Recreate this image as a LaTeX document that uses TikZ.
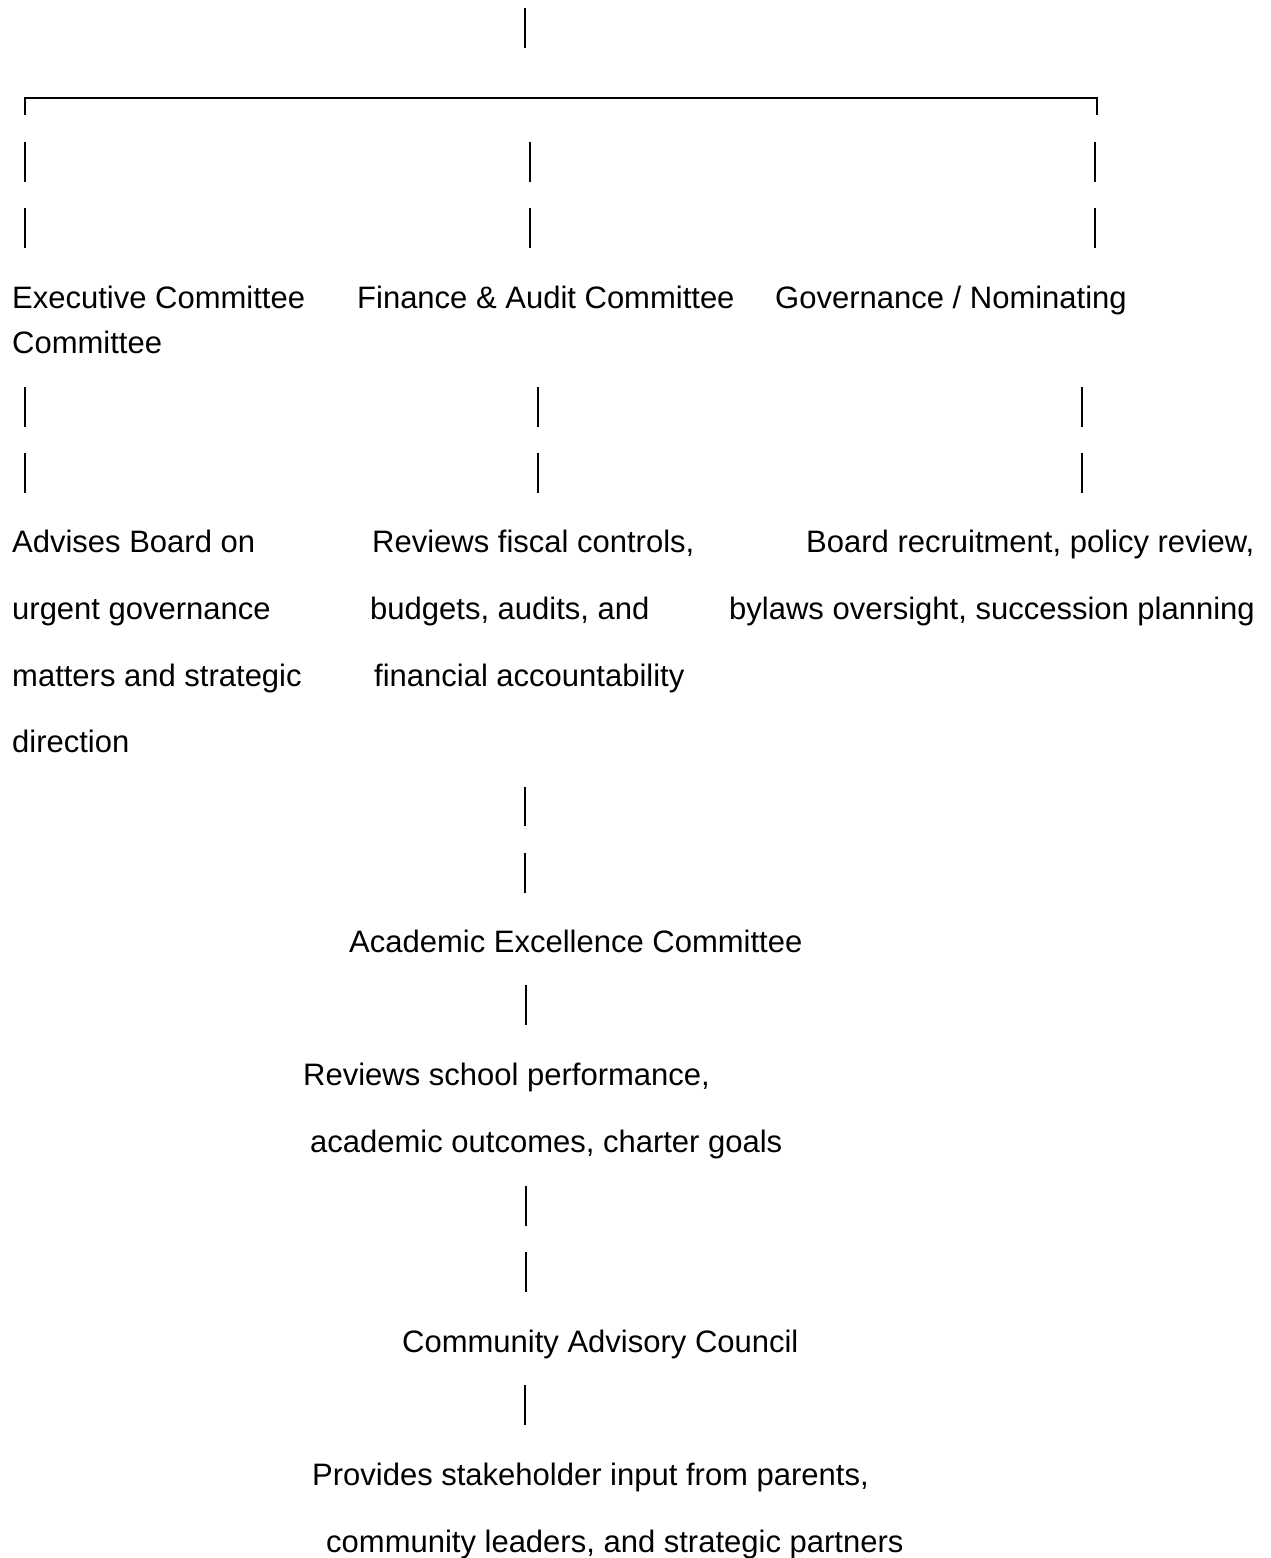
\documentclass[tikz,border=0pt]{standalone}
\usepackage{fontspec}
\setmainfont{Liberation Sans}
\usetikzlibrary{positioning}

\tikzset{
	orgtext/.style={anchor=base west,inner sep=0pt,font=\fontsize{31}{31}\selectfont},
	bar/.style={line width=1.6pt,line cap=butt}
}

\begin{document}
\begin{tikzpicture}[x=1pt,y=-1pt]
	\useasboundingbox (0,0) rectangle (1270,1558);
	% bracket on top
	\draw[bar] (525,8)--(525,48);
	\draw[bar,line width=2pt] (25,115)--(25,98)--(1097,98)--(1097,115);
	% short vertical bars
	\foreach \x/\a/\b in {
			25/142/182, 530/142/182, 1095/142/182,
			25/208/248, 530/208/248, 1095/208/248,
			25/387/427, 538/387/427, 1082/387/427,
			25/453/493, 538/453/493, 1082/453/493,
			525/787/826, 525/853/893,
			526/985/1025,
			526/1186/1226, 526/1252/1292,
			525/1385/1425
			} {
		\draw[bar] (\x,\a)--(\x,\b);
	};
	% committee names and their remits
	\foreach \n/\x/\y/\t in {
			exec/12/308/{Executive Committee},
			execb/12/353/{Committee},
			fin/357/308/{Finance \& Audit Committee},
			gov/775/308/{Governance / Nominating},
			execa/12/552/{Advises Board on},
			execc/12/619/{urgent governance},
			execd/12/686/{matters and strategic},
			exece/12/752/{direction},
			fina/372/552/{Reviews fiscal controls,},
			finb/370/619/{budgets, audits, and},
			finc/374/686/{financial accountability},
			gova/806/552/{Board recruitment, policy review,},
			govb/729/619/{bylaws oversight, succession planning},
			acad/349/952/{Academic Excellence Committee},
			acada/303/1085/{Reviews school performance,},
			acadb/310/1152/{academic outcomes, charter goals},
			comm/402/1352/{Community Advisory Council},
			comma/312/1485/{Provides stakeholder input from parents,},
			commb/326/1552/{community leaders, and strategic partners}
			} {
		\node[orgtext] (\n) at (\x,\y) {\t};
	};
\end{tikzpicture}
\end{document}
